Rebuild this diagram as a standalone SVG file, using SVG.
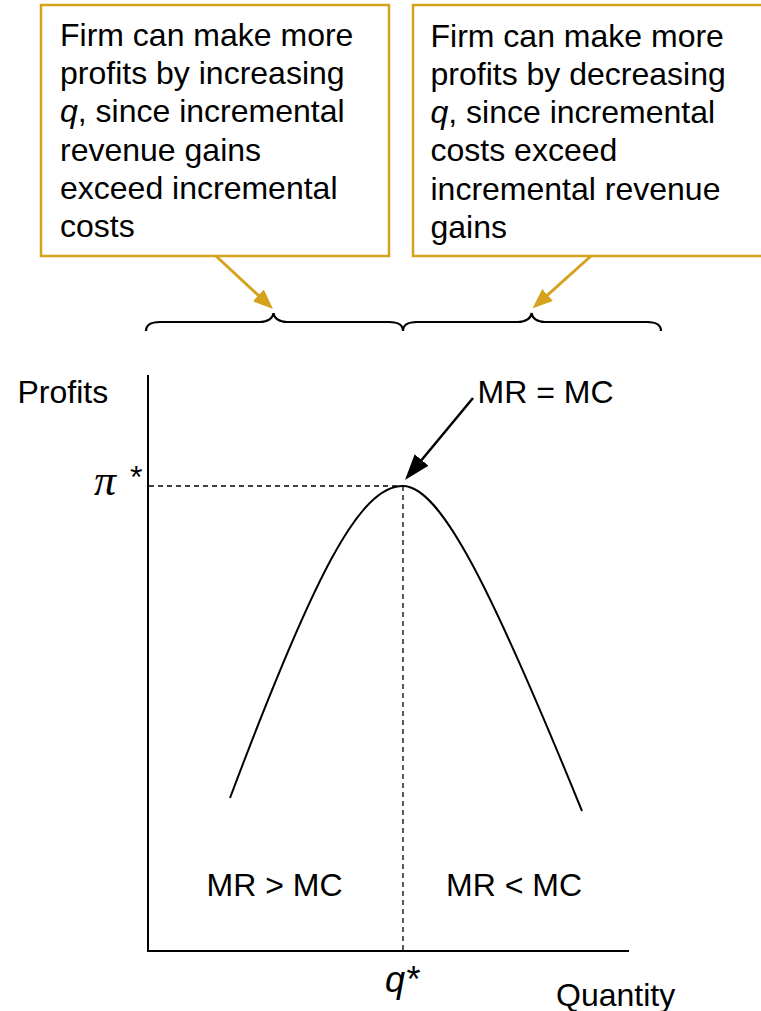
<svg xmlns="http://www.w3.org/2000/svg" width="761" height="1011" viewBox="0 0 761 1011">
<style>
  .t { font-family: "Liberation Sans", Arial, sans-serif; font-size: 32px; fill: #000; }
  .box { fill: #fff; stroke: #D5A21C; stroke-width: 2.5; }
  .gold { fill: none; stroke: #D5A21C; stroke-width: 3; }
  .blk { fill: none; stroke: #000; stroke-width: 2.5; }
  .brace { fill: none; stroke: #000; stroke-width: 2.2; }
  .axis { fill: none; stroke: #000; stroke-width: 2; }
  .dash { fill: none; stroke: #000; stroke-width: 1.3; stroke-dasharray: 5 4; }
  .curve { fill: none; stroke: #000; stroke-width: 2; }
</style>
<defs>
  <marker id="goldHead" viewBox="0 0 20 16" refX="8" refY="8" markerWidth="20" markerHeight="16" markerUnits="userSpaceOnUse" orient="auto">
    <path d="M0,0 L20,8 L0,16 z" fill="#D5A21C"/>
  </marker>
  <marker id="blackHead" viewBox="0 0 26 18" refX="10" refY="9" markerWidth="26" markerHeight="18" markerUnits="userSpaceOnUse" orient="auto">
    <path d="M0,0 L26,9 L0,18 z" fill="#000"/>
  </marker>
</defs>
<rect width="761" height="1011" fill="#fff"/>

<g id="box-left">
  <rect class="box" x="41" y="5" width="348" height="251"/>
  <text class="t">
    <tspan x="60" y="45.7">Firm can make more</tspan>
    <tspan x="60" y="84">profits by increasing</tspan>
    <tspan x="60" y="122.3"><tspan font-style="italic">q</tspan>, since incremental</tspan>
    <tspan x="60" y="160.6">revenue gains</tspan>
    <tspan x="60" y="199">exceed incremental</tspan>
    <tspan x="60" y="237.3">costs</tspan>
  </text>
</g>

<g id="box-right">
  <rect class="box" x="413" y="5" width="360" height="251"/>
  <text class="t">
    <tspan x="430.5" y="46.5">Firm can make more</tspan>
    <tspan x="430.5" y="84.8">profits by decreasing</tspan>
    <tspan x="430.5" y="123.1"><tspan font-style="italic">q</tspan>, since incremental</tspan>
    <tspan x="430.5" y="161.4">costs exceed</tspan>
    <tspan x="430.5" y="199.7">incremental revenue</tspan>
    <tspan x="430.5" y="238">gains</tspan>
  </text>
</g>

<g id="braces">
  <path class="brace" d="M146,331 C146,324 152,322 160,322 L260,322 C268,322 273,318 273.5,313 C274,318 279,322 287,322 L389,322 C397,322 403,324 403,331"/>
  <path class="brace" d="M403,331 C403,324 409,322 417,322 L518,322 C526,322 531,318 531.7,313 C532,318 537,322 545,322 L647,322 C655,322 661,324 661,331"/>
</g>

<g id="axes">
  <line class="axis" x1="148" y1="375" x2="148" y2="951"/>
  <line class="axis" x1="147" y1="951" x2="629" y2="951"/>
  <line class="dash" x1="149" y1="486" x2="403" y2="486"/>
  <line class="dash" x1="403" y1="486" x2="403" y2="950"/>
</g>

<g id="profit-curve">
  <path class="curve" d="M230,798 C315,572 360,486 403,486 C440,486 490,585 582,811"/>
</g>

<g id="connectors">
  <line class="gold" x1="216" y1="256" x2="264.2" y2="300.8" marker-end="url(#goldHead)"/>
  <line class="gold" x1="591" y1="256" x2="541.6" y2="300.3" marker-end="url(#goldHead)"/>
  <line class="blk" x1="473" y1="398" x2="415.2" y2="467.7" marker-end="url(#blackHead)"/>
</g>

<g id="labels">
  <text class="t" x="17.5" y="403">Profits</text>
  <text class="t" x="477.5" y="402.5">MR = MC</text>
  <text x="94" y="495" font-family="'Liberation Serif', 'Times New Roman', serif" font-style="italic" font-size="44">π</text>
  <text class="t" x="130" y="488">*</text>
  <text class="t" x="206.5" y="895.5">MR &gt; MC</text>
  <text class="t" x="446" y="895.5">MR &lt; MC</text>
  <text class="t" x="385" y="992" font-style="italic" style="font-size:36px">q*</text>
  <text class="t" x="556" y="1006">Quantity</text>
</g>
</svg>
